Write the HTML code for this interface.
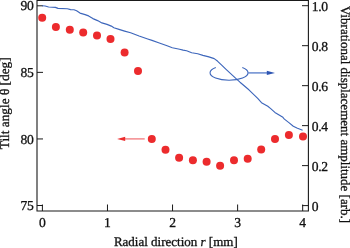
<!DOCTYPE html><html><head><meta charset="utf-8"><style>html,body{margin:0;padding:0;background:#fff;width:350px;height:248px;overflow:hidden}svg{display:block;will-change:transform}text{font-family:"Liberation Serif",serif;fill:#111;text-rendering:geometricPrecision;stroke:#111;stroke-width:0.3px}</style></head><body>
<svg width="350" height="248" viewBox="0 0 350 248">
<path d="M37 0.5H308.4V211H37Z" fill="none" stroke="#1a1a1a" stroke-width="1.1"/>
<line x1="37" y1="5.80" x2="43" y2="5.80" stroke="#1a1a1a" stroke-width="1"/>
<text x="33.6" y="10.40" font-size="13.6" text-anchor="end" letter-spacing="-0.3">90</text>
<line x1="37" y1="72.37" x2="43" y2="72.37" stroke="#1a1a1a" stroke-width="1"/>
<text x="33.6" y="76.97" font-size="13.6" text-anchor="end" letter-spacing="-0.3">85</text>
<line x1="37" y1="138.94" x2="43" y2="138.94" stroke="#1a1a1a" stroke-width="1"/>
<text x="33.6" y="143.54" font-size="13.6" text-anchor="end" letter-spacing="-0.3">80</text>
<line x1="37" y1="205.51" x2="43" y2="205.51" stroke="#1a1a1a" stroke-width="1"/>
<text x="33.6" y="210.11" font-size="13.6" text-anchor="end" letter-spacing="-0.3">75</text>
<line x1="302" y1="5.70" x2="308.4" y2="5.70" stroke="#1a1a1a" stroke-width="1"/>
<text x="311.8" y="10.80" font-size="13.6" letter-spacing="-0.35">1.0</text>
<line x1="302" y1="45.68" x2="308.4" y2="45.68" stroke="#1a1a1a" stroke-width="1"/>
<text x="311.8" y="50.78" font-size="13.6" letter-spacing="-0.35">0.8</text>
<line x1="302" y1="85.66" x2="308.4" y2="85.66" stroke="#1a1a1a" stroke-width="1"/>
<text x="311.8" y="90.76" font-size="13.6" letter-spacing="-0.35">0.6</text>
<line x1="302" y1="125.64" x2="308.4" y2="125.64" stroke="#1a1a1a" stroke-width="1"/>
<text x="311.8" y="130.74" font-size="13.6" letter-spacing="-0.35">0.4</text>
<line x1="302" y1="165.62" x2="308.4" y2="165.62" stroke="#1a1a1a" stroke-width="1"/>
<text x="311.8" y="170.72" font-size="13.6" letter-spacing="-0.35">0.2</text>
<line x1="302" y1="205.60" x2="308.4" y2="205.60" stroke="#1a1a1a" stroke-width="1"/>
<text x="311.8" y="210.70" font-size="13.6" letter-spacing="-0.35">0</text>
<line x1="42.40" y1="204.5" x2="42.40" y2="211" stroke="#1a1a1a" stroke-width="1"/>
<text x="42.40" y="226.7" font-size="13.6" text-anchor="middle">0</text>
<line x1="107.47" y1="204.5" x2="107.47" y2="211" stroke="#1a1a1a" stroke-width="1"/>
<text x="107.47" y="226.7" font-size="13.6" text-anchor="middle">1</text>
<line x1="172.54" y1="204.5" x2="172.54" y2="211" stroke="#1a1a1a" stroke-width="1"/>
<text x="172.54" y="226.7" font-size="13.6" text-anchor="middle">2</text>
<line x1="237.61" y1="204.5" x2="237.61" y2="211" stroke="#1a1a1a" stroke-width="1"/>
<text x="237.61" y="226.7" font-size="13.6" text-anchor="middle">3</text>
<line x1="302.68" y1="204.5" x2="302.68" y2="211" stroke="#1a1a1a" stroke-width="1"/>
<text x="302.68" y="226.7" font-size="13.6" text-anchor="middle">4</text>
<text x="175.8" y="245.6" font-size="13" text-anchor="middle">Radial direction <tspan font-style="italic">r</tspan> [mm]</text>
<text transform="translate(9.1,103.3) rotate(-90)" font-size="13.3" text-anchor="middle">Tilt angle θ [deg]</text>
<text transform="translate(341.3,114.5) rotate(90)" font-size="13" text-anchor="middle">Vibrational displacement amplitude [arb.]</text>
<path d="M42.1,5.8 L45.1,6.0 L48.6,7.0 L55.4,7.4 L58,8.4 L67.4,8.7 L70.6,9.6 L74,9.8 L76.6,10.8 L80,13.1 L85.1,14.6 L88.6,15.9 L92.9,18.6 L97.6,20.6 L101.9,22.9 L107,24.4 L111.3,26.1 L113.9,27.8 L119,29.4 L124.6,31.1 L130.6,32.8 L139.1,36 L147.7,39 L152,40.4 L158.6,42.7 L167.1,45.8 L172.3,47.7 L179.6,49.2 L183.1,50.1 L186.6,50.8 L191.7,52.7 L197.7,53.8 L202.9,55.4 L208.9,56.9 L214.2,58.6 L217.7,61.3 L222.2,65.6 L226.6,69.8 L236.6,79.1 L240,82.2 L248.9,89.8 L257.7,98.4 L261.5,102.7 L267.8,106.2 L270.4,108.4 L274.9,112.4 L282.9,117.3 L284.4,119.1 L288.9,122.6 L293.3,126.2 L296.9,128 L302.6,130.2" fill="none" stroke="#3d66bb" stroke-width="1.15" stroke-linejoin="round"/>
<path d="M215.8,67.6 A19,7.4 0 1,0 242.3,67.6" fill="none" stroke="#3d66bb" stroke-width="1.1"/>
<line x1="247.8" y1="72.9" x2="268" y2="72.9" stroke="#6a8bd0" stroke-width="1.5"/>
<path d="M266.8,70.8 L275,72.9 L266.8,75Z" fill="#2e55b3"/>
<line x1="124" y1="138.9" x2="144.7" y2="138.9" stroke="#f2787c" stroke-width="1.3"/>
<path d="M125.2,136.7 L117.1,138.9 L125.2,141.1Z" fill="#ec2b2d"/>
<circle cx="42.2" cy="17.85" r="4" fill="#ec2b2d"/>
<circle cx="55.9" cy="27.05" r="4" fill="#ec2b2d"/>
<circle cx="69.8" cy="29.8" r="4" fill="#ec2b2d"/>
<circle cx="83.2" cy="32.5" r="4" fill="#ec2b2d"/>
<circle cx="97" cy="35.4" r="4" fill="#ec2b2d"/>
<circle cx="110.5" cy="39" r="4" fill="#ec2b2d"/>
<circle cx="124.6" cy="52.4" r="4" fill="#ec2b2d"/>
<circle cx="138" cy="71.1" r="4" fill="#ec2b2d"/>
<circle cx="151.8" cy="139.1" r="4" fill="#ec2b2d"/>
<circle cx="165.5" cy="149.7" r="4" fill="#ec2b2d"/>
<circle cx="179.1" cy="157.8" r="4" fill="#ec2b2d"/>
<circle cx="192.9" cy="160.3" r="4" fill="#ec2b2d"/>
<circle cx="206.6" cy="161.7" r="4" fill="#ec2b2d"/>
<circle cx="220.1" cy="165.7" r="4" fill="#ec2b2d"/>
<circle cx="234" cy="160.3" r="4" fill="#ec2b2d"/>
<circle cx="247.7" cy="158.8" r="4" fill="#ec2b2d"/>
<circle cx="261.2" cy="149.6" r="4" fill="#ec2b2d"/>
<circle cx="275" cy="139" r="4" fill="#ec2b2d"/>
<circle cx="288.9" cy="135.1" r="4" fill="#ec2b2d"/>
<circle cx="303" cy="136.4" r="4" fill="#ec2b2d"/>
</svg></body></html>
